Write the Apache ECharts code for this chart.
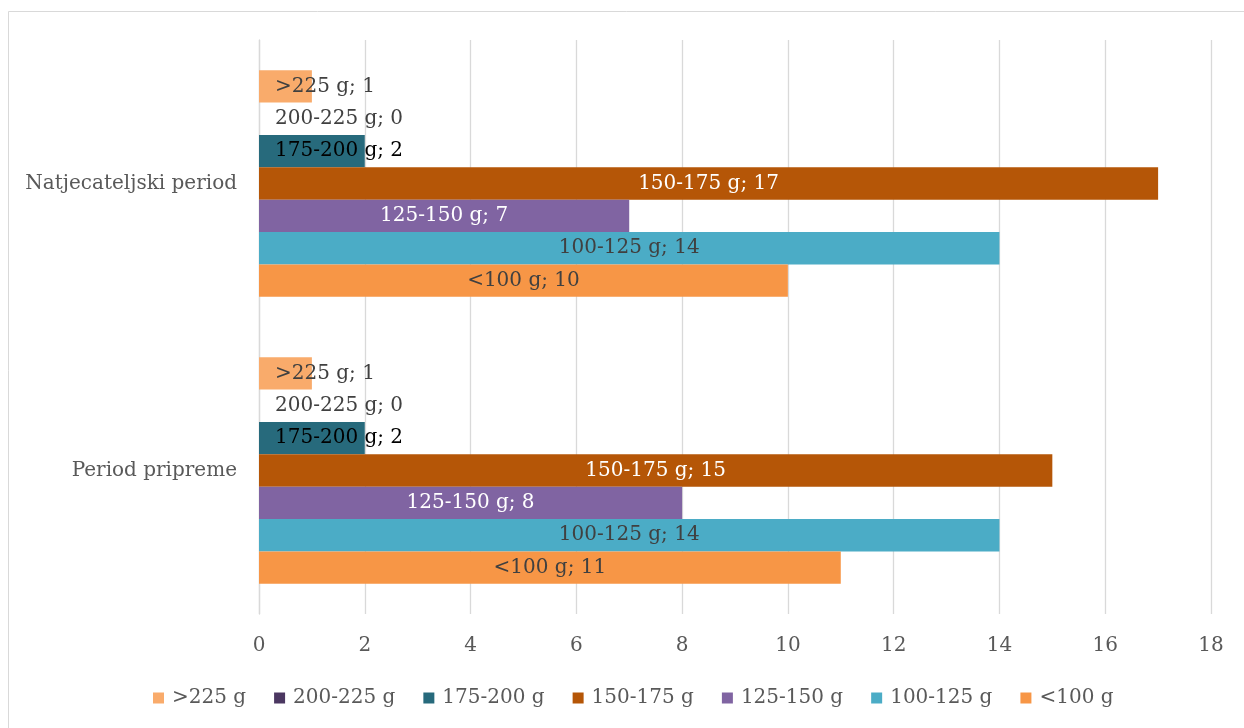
<!DOCTYPE html>
<html>
<head>
<meta charset="utf-8">
<script src="https://cdn.jsdelivr.net/npm/echarts@6/dist/echarts.min.js"></script>
<style>
html,body{margin:0;padding:0;background:#fff;}
#chart{width:1244px;height:728px;}
</style>
</head>
<body>
<div id="chart"></div>
<script>
// ---- data ----
var categories = ['Period pripreme', 'Natjecateljski period'];
var seriesNames = ['>225 g', '200-225 g', '175-200 g', '150-175 g', '125-150 g', '100-125 g', '<100 g'];
var v_over225   = [1, 1];
var v_200_225   = [0, 0];
var v_175_200   = [2, 2];
var v_150_175   = [15, 17];
var v_125_150   = [8, 7];
var v_100_125   = [14, 14];
var v_under100  = [11, 10];
var xTicks = [0, 2, 4, 6, 8, 10, 12, 14, 16, 18];

var seriesValues = [v_over225, v_200_225, v_175_200, v_150_175, v_125_150, v_100_125, v_under100];
var colors = ['#F9AB6B', '#4B3761', '#276A7C', '#B55607', '#8064A2', '#4BACC6', '#F79646'];
var labelColors = ['#404040', '#404040', '#000000', '#FFFFFF', '#FFFFFF', '#404040', '#404040'];

var FONT = 'DejaVu Serif';
var FS = 20;
var gridLeft = 259, gridRight = 33;
var plotW = 1244 - gridLeft - gridRight;
var pxPerUnit = plotW / (xTicks[xTicks.length - 1] - xTicks[0]);

var ctx = document.createElement('canvas').getContext('2d');
ctx.font = FS + 'px "' + FONT + '"';

var chart = echarts.init(document.getElementById('chart'));

var series = seriesNames.map(function (name, i) {
  return {
    name: name,
    type: 'bar',
    barGap: '0%',
    barCategoryGap: '21%',
    itemStyle: { color: colors[i] },
    data: seriesValues[i].map(function (v) {
      var text = name + '; ' + v;
      var tw = ctx.measureText(text).width;
      var fits = v * pxPerUnit > tw + 4;
      return {
        value: v,
        label: fits ? { position: 'inside' } : { position: 'insideLeft', distance: 16 }
      };
    }),
    label: {
      show: true,
      formatter: function (p) { return p.seriesName + '; ' + p.value; },
      color: labelColors[i],
      fontFamily: FONT,
      fontSize: FS
    }
  };
});

chart.setOption({
  backgroundColor: '#ffffff',
  animation: false,
  textStyle: { fontFamily: FONT },
  graphic: [{
    type: 'rect',
    shape: { x: 8.5, y: 11.5, width: 1260, height: 740 },
    style: { fill: 'none', stroke: '#D9D9D9', lineWidth: 1 },
    silent: true
  }],
  grid: { left: gridLeft, right: gridRight, top: 40, bottom: 114, containLabel: false },
  legend: {
    bottom: 15,
    left: 148,
    icon: 'rect',
    itemWidth: 11,
    itemHeight: 11,
    itemGap: 28,
    textStyle: { color: '#595959', fontFamily: FONT, fontSize: FS, padding: [0, 0, 0, 3] },
    data: seriesNames
  },
  xAxis: {
    type: 'value',
    min: xTicks[0],
    max: xTicks[xTicks.length - 1],
    interval: 2,
    axisLine: { show: false },
    axisTick: { show: false },
    splitLine: { show: true, lineStyle: { color: '#D9D9D9', width: 1.3 } },
    axisLabel: { color: '#595959', fontFamily: FONT, fontSize: FS, margin: 22 }
  },
  yAxis: {
    type: 'category',
    data: categories,
    axisLine: { show: true, lineStyle: { color: '#D9D9D9', width: 1.3 } },
    axisTick: { show: false },
    axisLabel: { color: '#595959', fontFamily: FONT, fontSize: FS, margin: 22 }
  },
  series: series
});
</script>
</body>
</html>
